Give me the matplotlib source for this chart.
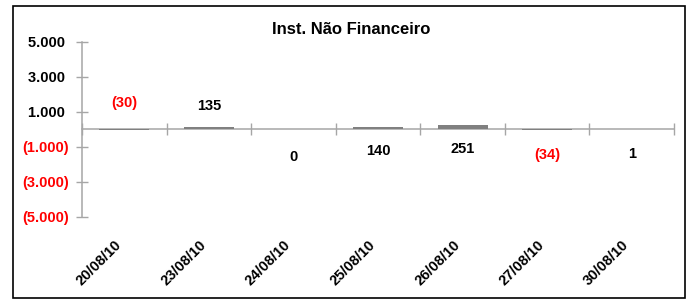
import matplotlib
matplotlib.use('Agg')
import matplotlib.pyplot as plt
from matplotlib.patches import Rectangle
import numpy as np

plt.rcParams['font.family'] = ['Liberation Sans', 'DejaVu Sans']
plt.rcParams['font.weight'] = 'bold'

dates = ['20/08/10', '23/08/10', '24/08/10', '25/08/10', '26/08/10', '27/08/10', '30/08/10']
values = [-30, 135, 0, 140, 251, -34, 1]
label_y = [1470, 1330, -1590, -1250, -1130, -1470, -1420]
yticks = [5000, 3000, 1000, -1000, -3000, -5000]
title = 'Inst. Não Financeiro'

GREY = '#A6A6A6'
RED = '#FF0000'


def fmt(v, trail=''):
    s = f"{abs(v):,}".replace(',', '.')
    return f"({s})" if v < 0 else s + trail


fig = plt.figure(figsize=(6.89, 2.99), dpi=100)
W, H = 689, 299
ax = fig.add_axes([82 / W, 1 - 216.7 / H, (674 - 82) / W, (216.7 - 41.7) / H])
x = np.arange(len(dates))
ax.bar(x, values, width=0.59, color='#808080', zorder=3)
ax.set_xlim(-0.5, len(dates) - 0.5)
ax.set_ylim(-5000, 5000)

for s in ['top', 'right']:
    ax.spines[s].set_visible(False)
ax.spines['left'].set_color(GREY)
ax.spines['left'].set_linewidth(1.1)
ax.spines['bottom'].set_color(GREY)
ax.spines['bottom'].set_linewidth(1.1)
ax.spines['bottom'].set_position(('data', 0))

ax.set_yticks(yticks)
ax.set_yticklabels([fmt(v, ' ') for v in yticks], fontsize=10.5, fontweight='bold')
for lab, v in zip(ax.get_yticklabels(), yticks):
    lab.set_color(RED if v < 0 else 'black')
ax.tick_params(axis='y', direction='inout', length=9, width=1, color=GREY, pad=5)

ax.set_xticks(x)
ax.set_xticklabels(dates, rotation=45, ha='right', va='top', fontsize=10.5, fontweight='bold')
ax.set_xticks(np.arange(len(dates) + 1) - 0.5, minor=True)
ax.tick_params(axis='x', which='major', length=0, pad=78)
ax.tick_params(axis='x', which='minor', direction='inout', length=8, width=1, color=GREY)

for xi, v, ly in zip(x, values, label_y):
    ax.text(xi, ly, fmt(v), ha='center', va='center', fontsize=10.5, fontweight='bold',
            color=RED if v < 0 else 'black', zorder=4)

fig.text(351 / W, 1 - 29 / H, title, ha='center', va='center', fontsize=12, fontweight='bold')

fig.patches.append(Rectangle((13 / W, 1 - 297.5 / H), 672 / W, (297.5 - 6) / H,
                             transform=fig.transFigure, fill=False, edgecolor='black',
                             linewidth=1.2))

fig.savefig('out.png', dpi=100)
